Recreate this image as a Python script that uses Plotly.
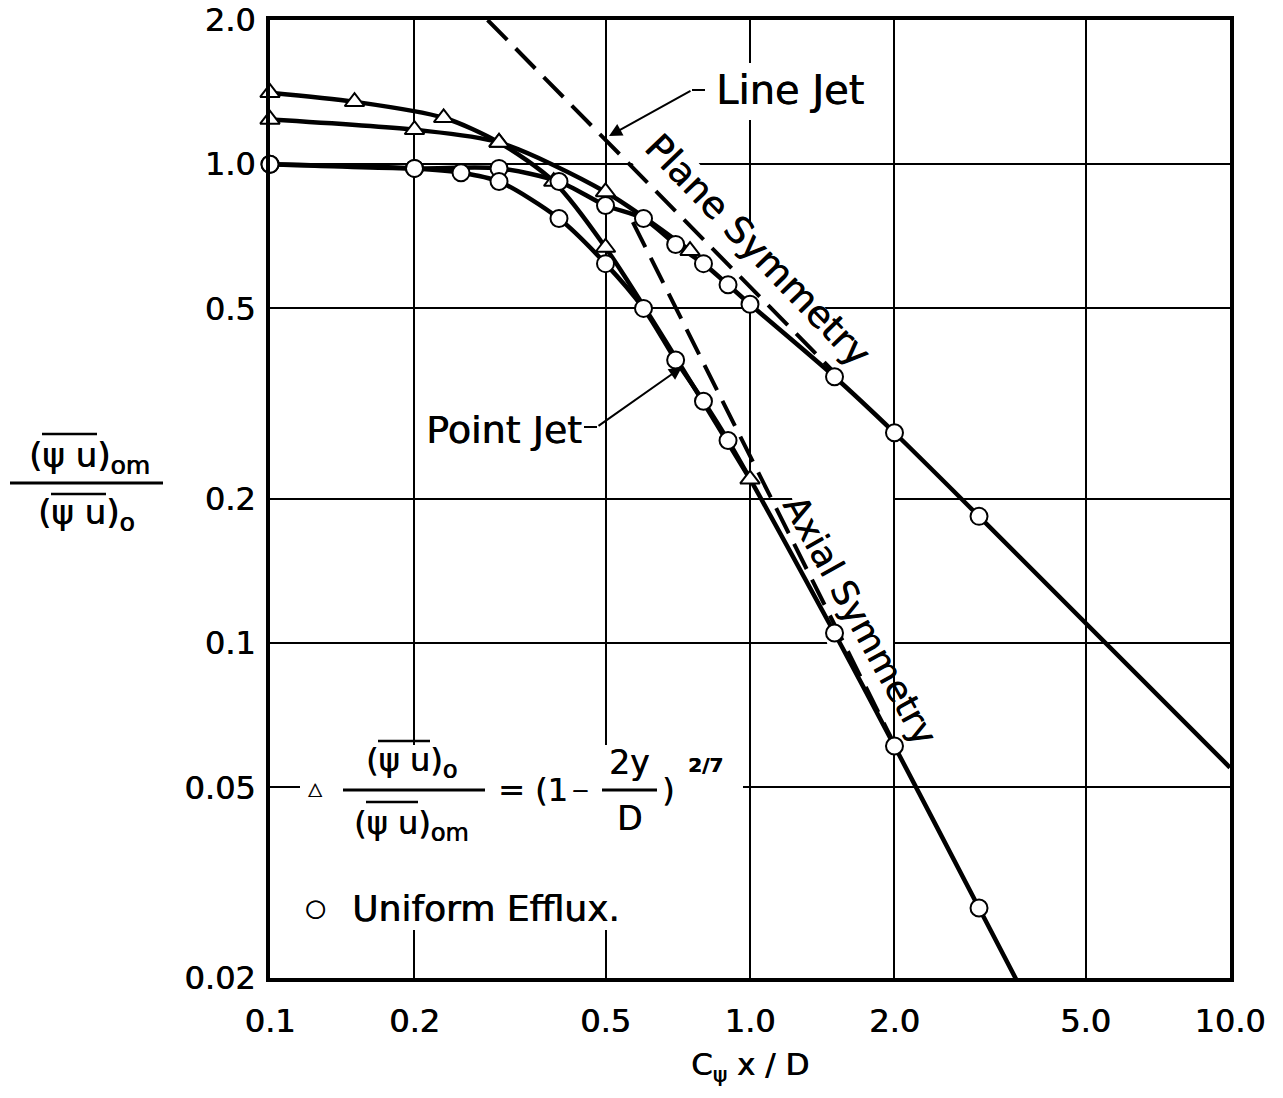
import math
import plotly.graph_objects as go

# ---------------- data ----------------
x_ticks = [0.1, 0.2, 0.5, 1.0, 2.0, 5.0, 10.0]
x_tick_labels = ["0.1", "0.2", "0.5", "1.0", "2.0", "5.0", "10.0"]
y_ticks = [0.02, 0.05, 0.1, 0.2, 0.5, 1.0, 2.0]
y_tick_labels = ["0.02", "0.05", "0.1", "0.2", "0.5", "1.0", "2.0"]

# Uniform efflux, plane symmetry (circles)
plane_uniform_x = [0.1, 0.2, 0.3, 0.4, 0.5, 0.6, 0.7, 0.8, 0.9, 1.0, 1.5, 2.0, 3.0]
plane_uniform_y = [1.0, 0.98, 0.98, 0.92, 0.82, 0.77, 0.68, 0.62, 0.56, 0.51, 0.36, 0.275, 0.184]
plane_uniform_tail_x = [10.0]
plane_uniform_tail_y = [0.055]

# Uniform efflux, axial symmetry (circles)
axial_uniform_x = [0.1, 0.2, 0.25, 0.3, 0.4, 0.5, 0.6, 0.7, 0.8, 0.9, 1.5, 2.0, 3.0]
axial_uniform_y = [1.0, 0.98, 0.96, 0.92, 0.77, 0.62, 0.50, 0.39, 0.32, 0.265, 0.105, 0.061, 0.028]
axial_uniform_tail_x = [3.7]
axial_uniform_tail_y = [0.0187]

# 1/7-power efflux profile, plane symmetry (triangles)
plane_power_x = [0.1, 0.2, 0.3, 0.5, 0.75]
plane_power_y = [1.24, 1.18, 1.11, 0.875, 0.66]

# 1/7-power efflux profile, axial symmetry (triangles)
axial_power_x = [0.1, 0.15, 0.23, 0.3, 0.39, 0.5, 1.0]
axial_power_y = [1.41, 1.35, 1.25, 1.11, 0.92, 0.67, 0.22]

# asymptotes (dashed)
line_jet_x = [0.284, 1.55]
line_jet_y = [2.0, 0.355]
point_jet_x = [0.57, 2.0]
point_jet_y = [0.757, 0.0615]

X_RANGE = [0.1, 10.0]
Y_RANGE = [0.02, 2.0]

# ---------------- layout helpers ----------------
W, H = 1283, 1098
PL, PR, PT, PB = 270, 1230, 20, 978
FONT = "DejaVu Sans"
SHADOW = "0.6px 0px 0px black"

LX0, LX1 = math.log10(X_RANGE[0]), math.log10(X_RANGE[1])
LY0, LY1 = math.log10(Y_RANGE[0]), math.log10(Y_RANGE[1])


def fx(px):
    return (px - PL) / (PR - PL)


def fy(py):
    return (PB - py) / (PB - PT)


def dxv(px):  # pixel -> data value on the log x axis (for decorations only)
    return 10 ** (LX0 + (LX1 - LX0) * fx(px))


def dyv(py):
    return 10 ** (LY0 + (LY1 - LY0) * fy(py))


fig = go.Figure()

dash_style = "28px,12px"
fig.add_trace(go.Scatter(x=line_jet_x, y=line_jet_y, mode="lines",
                         line=dict(color="black", width=4, dash=dash_style)))
fig.add_trace(go.Scatter(x=point_jet_x, y=point_jet_y, mode="lines",
                         line=dict(color="black", width=4, dash=dash_style)))

for xs, ys in [
    (plane_uniform_x + plane_uniform_tail_x, plane_uniform_y + plane_uniform_tail_y),
    (axial_uniform_x + axial_uniform_tail_x, axial_uniform_y + axial_uniform_tail_y),
    (plane_power_x, plane_power_y),
    (axial_power_x, axial_power_y),
]:
    fig.add_trace(go.Scatter(x=xs, y=ys, mode="lines",
                             line=dict(color="black", width=4.5, shape="spline", smoothing=0.8)))

tri = dict(symbol="triangle-up", size=17, color="white", line=dict(color="black", width=2))
circ = dict(symbol="circle", size=17, color="white", line=dict(color="black", width=2))
for xs, ys, mk in [
    (plane_power_x, plane_power_y, tri),
    (axial_power_x, axial_power_y, tri),
    (plane_uniform_x, plane_uniform_y, circ),
    (axial_uniform_x, axial_uniform_y, circ),
]:
    fig.add_trace(go.Scatter(x=xs, y=ys, mode="markers", marker=mk, cliponaxis=False))

axis_common = dict(
    type="log", showgrid=True, gridcolor="black", gridwidth=2,
    showline=True, linecolor="black", linewidth=4, mirror=True,
    ticks="", zeroline=False, automargin=False,
    tickfont=dict(family=FONT, size=32, color="black", shadow=SHADOW),
)
fig.update_xaxes(range=[LX0, LX1], tickvals=x_ticks,
                 ticktext=x_tick_labels, ticklabelstandoff=12, **axis_common)
fig.update_yaxes(range=[LY0, LY1], tickvals=y_ticks,
                 ticktext=y_tick_labels, ticklabelstandoff=4, **axis_common)

shapes = []


def mask(points):
    path = "M " + " L ".join(f"{dxv(a):.6g},{dyv(b):.6g}" for a, b in points) + " Z"
    shapes.append(dict(type="path", path=path, xref="x", yref="y",
                       fillcolor="white", line=dict(width=0), layer="between"))


def seg(x0, y0, x1, y1, w=3):
    shapes.append(dict(type="line", xref="paper", yref="paper",
                       x0=fx(x0), y0=fy(y0), x1=fx(x1), y1=fy(y1),
                       line=dict(color="black", width=w), layer="above"))


# white erasures of the grid behind labels (above grid, below curves)
mask([(300, 745), (743, 745), (743, 930), (300, 930)])
mask([(703, 63), (872, 63), (872, 120), (703, 120)])
mask([(628, 158), (676, 137), (750, 222), (850, 336), (838, 368), (750, 305)])
mask([(790, 490), (893, 490), (893, 655), (830, 655)])

# y-axis title fraction
seg(10, 483, 163, 483)
seg(42, 434, 97, 434, 2.5)
seg(51, 494, 106, 494, 2.5)
# legend fraction
seg(343, 790, 485, 790)
seg(378, 741, 430, 741, 2.5)
seg(366, 802, 418, 802, 2.5)
seg(602, 790, 657, 790)
# leader stubs
seg(692, 90, 705, 90, 2)
seg(584, 427, 597, 427, 2)

annotations = []


def txt(text, x, y, size=30, xanchor="center", angle=0, weight="normal"):
    annotations.append(dict(text=text, x=fx(x), y=fy(y), xref="paper", yref="paper",
                            showarrow=False, xanchor=xanchor, yanchor="middle",
                            textangle=angle,
                            font=dict(family=FONT, size=size, color="black",
                                      weight=weight, shadow=SHADOW)))


txt("Line Jet", 790, 90, 40)
txt("Point Jet", 504, 430, 38)
txt("Plane Symmetry", 757, 250, 37, angle=46)
txt("Axial Symmetry", 860, 620, 35, angle=61)

txt("(ψ u)<sub><span style='font-size:25px'>om</span></sub>", 89, 457, 34)
txt("(ψ u)<sub><span style='font-size:25px'>o</span></sub>", 86, 514, 34)

txt("△", 315, 788, 18)
txt("(ψ u)<sub><span style='font-size:24px'>o</span></sub>", 411, 762, 32)
txt("(ψ u)<sub><span style='font-size:24px'>om</span></sub>", 411, 826, 32)
txt("= (1", 496, 790, 32, xanchor="left")
txt("−", 580, 790, 22)
txt("2y", 629, 762, 33)
txt("D", 629, 818, 33)
txt(")", 668, 790, 32)
txt("2/7", 705, 765, 20, weight="bold")
txt("○", 315, 908, 24)
txt("Uniform Efflux.", 350, 908, 36, xanchor="left")

txt("C<sub>ψ</sub> x / D", 750, 1066, 31)

# arrows
annotations.append(dict(x=fx(609), y=fy(136), xref="paper", yref="paper", text="",
                        showarrow=True, ax=692 - 609, ay=90 - 136, axref="pixel", ayref="pixel",
                        arrowhead=2, arrowsize=1.3, arrowwidth=2, arrowcolor="black"))
annotations.append(dict(x=fx(682), y=fy(367), xref="paper", yref="paper", text="",
                        showarrow=True, ax=597 - 682, ay=427 - 367, axref="pixel", ayref="pixel",
                        arrowhead=2, arrowsize=1.3, arrowwidth=2, arrowcolor="black"))

fig.update_layout(
    width=W, height=H, autosize=False,
    margin=dict(l=PL, r=W - PR, t=PT, b=H - PB, pad=0, autoexpand=False),
    paper_bgcolor="white", plot_bgcolor="white",
    showlegend=False,
    shapes=shapes, annotations=annotations,
)

fig.write_html("out.html")
